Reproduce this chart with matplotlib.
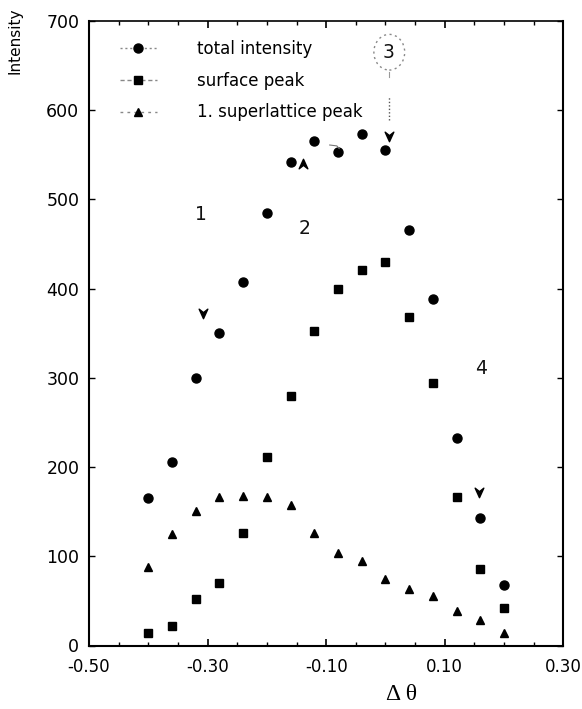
import matplotlib
matplotlib.use("Agg")
import matplotlib.pyplot as plt
from matplotlib.lines import Line2D
from matplotlib.patches import Ellipse
from matplotlib.path import Path
from matplotlib.ticker import MultipleLocator, FixedLocator, FormatStrFormatter

# ---- data ----
delta_theta = [-0.40, -0.36, -0.32, -0.28, -0.24, -0.20, -0.16, -0.12,
               -0.08, -0.04, 0.00, 0.04, 0.08, 0.12, 0.16, 0.20]
total_intensity = [165, 206, 300, 350, 408, 485, 542, 566,
                   553, 573, 555, 466, 388, 233, 143, 68]
surface_peak = [14, 22, 52, 70, 126, 211, 280, 352,
                400, 421, 430, 368, 294, 166, 86, 42]
superlattice_peak = [88, 125, 151, 166, 168, 166, 157, 126,
                     104, 95, 74, 63, 56, 39, 29, 14]

series_labels = ["total intensity", "surface peak", "1. superlattice peak"]

# annotation markers (position labels 1-4)
mark_labels = ["1", "2", "3", "4"]
mark_label_x = [-0.311, -0.136, 0.006, 0.161]
mark_label_y = [483, 467, 665, 310]
arrow_down_x = [-0.307, 0.0065, 0.157]
arrow_down_y = [373, 571, 172]
arrow_up_x = [-0.1386]
arrow_up_y = [540]

x_ticks = [-0.50, -0.30, -0.10, 0.10, 0.30]
y_ticks = [0, 100, 200, 300, 400, 500, 600, 700]

# ---- figure ----
W, H = 582, 709
fig = plt.figure(figsize=(W / 100, H / 100), dpi=100)
ax = fig.add_axes([89 / W, 1 - 645.5 / H, (563.3 - 89) / W, (645.5 - 21) / H])

ax.set_xlim(-0.50, 0.30)
ax.set_ylim(0, 700)

ax.plot(delta_theta, total_intensity, linestyle="none", marker="o",
        markersize=6.5, color="black")
ax.plot(delta_theta, surface_peak, linestyle="none", marker="s",
        markersize=5.2, color="black")
ax.plot(delta_theta, superlattice_peak, linestyle="none", marker="^",
        markersize=6, color="black")

# notched arrowhead markers
down_path = Path([(-1, 1), (0, -1.2), (1, 1), (0, 0.2), (-1, 1)],
                 [Path.MOVETO, Path.LINETO, Path.LINETO, Path.LINETO, Path.CLOSEPOLY])
up_path = Path([(-1, -1), (0, 1.2), (1, -1), (0, -0.2), (-1, -1)],
               [Path.MOVETO, Path.LINETO, Path.LINETO, Path.LINETO, Path.CLOSEPOLY])
ax.plot(arrow_down_x, arrow_down_y, linestyle="none", marker=down_path,
        markersize=7.5, color="black")
ax.plot(arrow_up_x, arrow_up_y, linestyle="none", marker=up_path,
        markersize=7.5, color="black")

for lab, lx, ly in zip(mark_labels, mark_label_x, mark_label_y):
    ax.text(lx, ly, lab, fontsize=13.5, ha="center", va="center",
            family="DejaVu Sans", color="#111111")

# dashed circle around "3" and dotted guide below it
ax.add_patch(Ellipse((0.0065, 665), 0.052, 40, fill=False, edgecolor="#888888",
                     linestyle=(0, (1.5, 2.5)), linewidth=1.0))
ax.plot([0.0065, 0.0065], [589, 616], color="#555555", linestyle=(0, (1, 1.5)),
        linewidth=1.0)
ax.plot([0.0065, 0.0065], [637, 643], color="#999999", linewidth=0.8)
ax.plot([-0.094, -0.082, -0.078], [561, 560, 557], color="#777777", linewidth=0.8)

# ---- axes styling ----
for s in ax.spines.values():
    s.set_linewidth(1.5)
ax.spines["top"].set_linewidth(1.2)

ax.xaxis.set_major_locator(FixedLocator(x_ticks))
ax.xaxis.set_minor_locator(MultipleLocator(0.05))
ax.xaxis.set_major_formatter(FormatStrFormatter("%.2f"))
ax.yaxis.set_major_locator(FixedLocator(y_ticks))
ax.yaxis.set_major_formatter(FormatStrFormatter("%d"))

ax.tick_params(axis="both", which="both", direction="in", top=True, right=True,
               color="black")
ax.tick_params(axis="x", which="major", length=5, width=1.2, pad=9, labelsize=12)
ax.tick_params(axis="x", which="minor", length=3, width=1.0)
ax.tick_params(axis="y", which="major", length=4, width=1.0, pad=7, labelsize=12.5)

fig.text(402 / W, 1 - 695 / H, "\u0394 \u03b8", ha="center", va="center",
         fontsize=17, family="Liberation Serif")
fig.text(15 / W, 1 - 8 / H, "Intensity", rotation=90, ha="center", va="top",
         fontsize=11, family="DejaVu Sans")

# ---- legend ----
handles = [
    Line2D([], [], color="#888888", linestyle=(0, (1.5, 2)), linewidth=1.0,
           marker="o", markersize=6.5, markerfacecolor="black", markeredgecolor="black"),
    Line2D([], [], color="#888888", linestyle=(0, (3, 2)), linewidth=1.0,
           marker="s", markersize=5.2, markerfacecolor="black", markeredgecolor="black"),
    Line2D([], [], color="#888888", linestyle=(0, (2, 3)), linewidth=1.0,
           marker="^", markersize=6, markerfacecolor="black", markeredgecolor="black"),
]
leg = ax.legend(handles, series_labels, loc="upper left",
                bbox_to_anchor=((120 - 89) / (563.3 - 89), 1 - (40 - 21) / (645.5 - 21)),
                frameon=False, fontsize=12, handlelength=2.2, handletextpad=2.4,
                labelspacing=0.82, borderpad=0, borderaxespad=0)

fig.savefig("out.png", dpi=100)
